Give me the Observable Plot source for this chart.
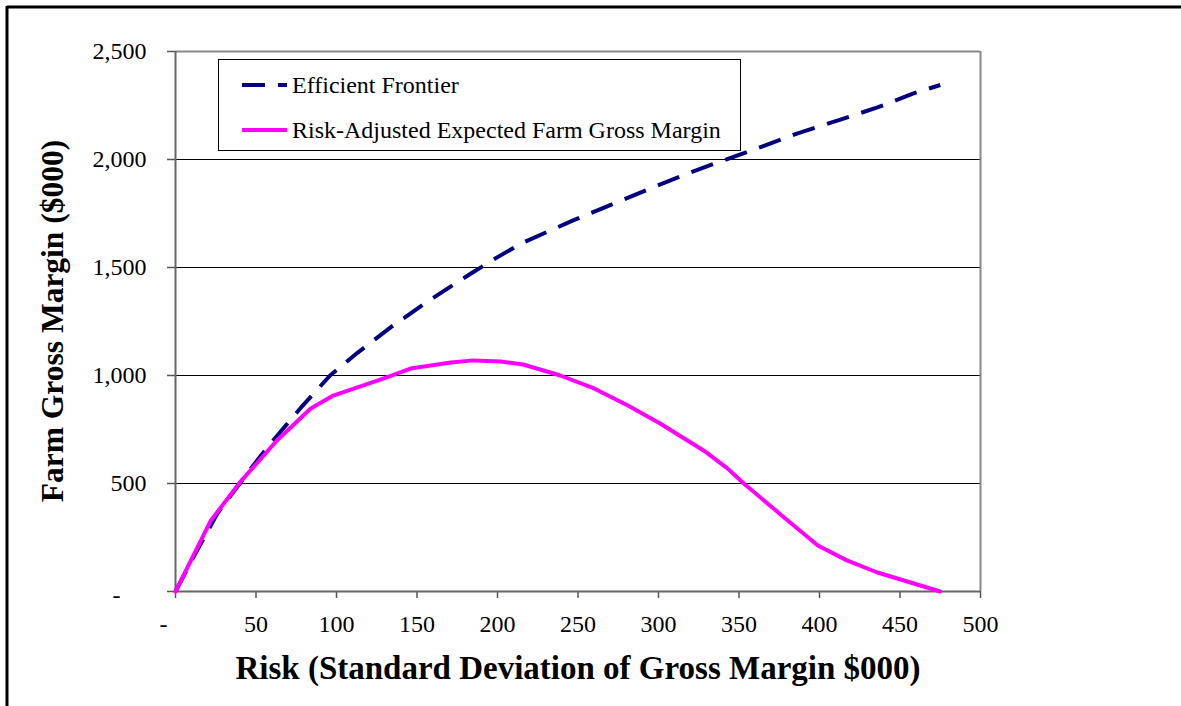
<!DOCTYPE html>
<html><head><meta charset="utf-8">
<script src="https://cdn.jsdelivr.net/npm/d3@7"></script>
<script src="https://cdn.jsdelivr.net/npm/@observablehq/plot@0.6"></script>
<style>body{margin:0;background:#fff} svg{display:block}</style>
</head><body><div id="chart"></div>
<script>
const frontierRisk   = [0, 11, 26, 45, 57, 78, 96, 113, 134, 157, 183, 200, 216, 247, 274, 295, 318, 340, 363, 386, 413, 436, 458, 475];
const frontierMargin = [0, 157, 361, 551, 667, 852, 1000, 1105, 1225, 1345, 1470, 1548, 1616, 1718, 1801, 1866, 1935, 1995, 2056, 2120, 2185, 2241, 2305, 2345];
const adjustedRisk   = [0, 22, 40, 63, 84, 98, 129, 146, 171, 185, 202, 216, 239, 260, 281, 301, 328, 343, 353, 378, 399, 417, 436, 475];
const adjustedMargin = [0, 329, 505, 699, 847, 907, 986, 1032, 1060, 1070, 1065, 1051, 1000, 940, 861, 778, 653, 569, 500, 343, 213, 144, 88, 0];
const xTicks = [0, 50, 100, 150, 200, 250, 300, 350, 400, 450, 500];
const yTicks = [0, 500, 1000, 1500, 2000, 2500];
const xLabel = "Risk (Standard Deviation of Gross Margin $000)";
const yLabel = "Farm Gross Margin ($000)";
const seriesNames = ["Efficient Frontier", "Risk-Adjusted Expected Farm Gross Margin"];
const seriesColors = ["#000080", "#FF00FF"];

const frontier = frontierRisk.map((x, i) => ({x, y: frontierMargin[i]}));
const adjusted = adjustedRisk.map((x, i) => ({x, y: adjustedMargin[i]}));
const fmt = d => d === 0 ? "-" : d3.format(",")(d);
const font = "'Liberation Serif', 'Times New Roman', serif";
const dash = "23,13";

const chart = Plot.plot({
  width: 1181, height: 706,
  marginLeft: 175, marginRight: 201, marginTop: 51, marginBottom: 115,
  style: {fontFamily: font, background: "#fff", color: "#000", overflow: "visible"},
  x: {domain: [0, 500], axis: null},
  y: {domain: [0, 2500], axis: null},
  marks: [
    Plot.ruleY(yTicks.filter(d => d > 0 && d < 2500), {y: d => d, stroke: "#000", strokeWidth: 1}),
    Plot.ruleY([2500], {stroke: "#888", strokeWidth: 2}),
    Plot.ruleX([500], {stroke: "#888", strokeWidth: 2}),
    Plot.axisX({ticks: xTicks, tickSize: 7, tickFormat: () => "", label: null, stroke: "#555", strokeWidth: 1.5}),
    Plot.axisY({ticks: yTicks, tickSize: 8, tickFormat: () => "", label: null, stroke: "#555", strokeWidth: 1.5}),
    Plot.ruleX([0], {stroke: "#666", strokeWidth: 2}),
    Plot.ruleY([0], {stroke: "#666", strokeWidth: 2}),
    Plot.line(frontier, {x: "x", y: "y", stroke: seriesColors[0], strokeWidth: 4, strokeDasharray: dash, strokeLinecap: "butt"}),
    Plot.line(adjusted, {x: "x", y: "y", stroke: seriesColors[1], strokeWidth: 4}),
    Plot.text(xTicks.filter(d => d > 0), {x: d => d, text: fmt, frameAnchor: "bottom", dy: 40, fontSize: 24, fill: "#000"}),
    Plot.text([0], {x: d => d, text: fmt, frameAnchor: "bottom", dy: 40, dx: -12, fontSize: 24, fill: "#000"}),
    Plot.text(yTicks.filter(d => d > 0), {y: d => d, text: fmt, frameAnchor: "left", dx: -29, textAnchor: "end", fontSize: 24, fill: "#000"}),
    Plot.text([0], {y: d => d, text: fmt, frameAnchor: "left", dx: -55, dy: 4, textAnchor: "end", fontSize: 24, fill: "#000"}),
    Plot.text([xLabel], {text: d => d, frameAnchor: "bottom", dy: 87, fontSize: 33, fontWeight: "bold", fill: "#000"})
  ]
});
document.getElementById("chart").appendChild(chart);

const svg = d3.select(chart);
// y-axis title
svg.append("text").attr("transform", "translate(52,321) rotate(-90)")
  .attr("text-anchor", "middle").attr("dy", "0.35em")
  .attr("font-family", font).attr("font-size", 31.5).attr("font-weight", "bold").attr("fill", "#000")
  .text(yLabel);
// outer frame
svg.append("line").attr("x1", 7).attr("x2", 1181).attr("y1", 7).attr("y2", 7).attr("stroke", "#000").attr("stroke-width", 3);
svg.append("line").attr("x1", 7).attr("x2", 7).attr("y1", 6).attr("y2", 706).attr("stroke", "#000").attr("stroke-width", 3);
// legend
const lg = svg.append("g");
lg.append("rect").attr("x", 218.5).attr("y", 59.5).attr("width", 522).attr("height", 91)
  .attr("fill", "#fff").attr("stroke", "#000").attr("stroke-width", 1);
const rows = [85, 130];
seriesNames.forEach((name, i) => {
  lg.append("line").attr("x1", 242).attr("x2", 287).attr("y1", rows[i]).attr("y2", rows[i])
    .attr("stroke", seriesColors[i]).attr("stroke-width", 4)
    .attr("stroke-dasharray", i === 0 ? dash : null);
  lg.append("text").attr("x", 292).attr("y", rows[i]).attr("dy", "0.35em").attr("text-anchor", "start")
    .attr("font-family", font).attr("font-size", 24).attr("fill", "#000").text(name);
});
</script></body></html>
